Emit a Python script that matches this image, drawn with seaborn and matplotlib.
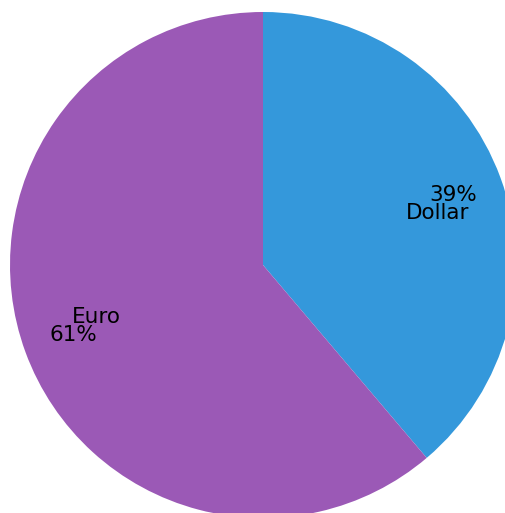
import matplotlib
matplotlib.use("Agg")
import matplotlib.pyplot as plt
import seaborn as sns

currencies = ["Dollar", "Euro"]
shares = [38.8, 61.2]
colors = sns.color_palette(["#3498db", "#9b59b6"])

sns.set_style("white")
plt.rcParams['font.family'] = ['DejaVu Sans']

fig = plt.figure(figsize=(5.05, 5.13), dpi=100)
# pie is bigger than the canvas, clipped on right and bottom
ax = fig.add_axes([10 / 505, -5 / 513, 506 / 505, 506 / 513])
ax.pie(shares, labels=currencies, colors=colors, startangle=90, counterclock=False,
       autopct='%1.0f%%', labeldistance=0.6, pctdistance=0.8,
       wedgeprops={'linewidth': 0},
       textprops={'fontsize': 15.5, 'color': 'black'}, radius=1)
ax.set_xlim(-1, 1)
ax.set_ylim(-1, 1)
ax.set_aspect('equal')
ax.axis('off')

fig.savefig("out.png", dpi=100)
